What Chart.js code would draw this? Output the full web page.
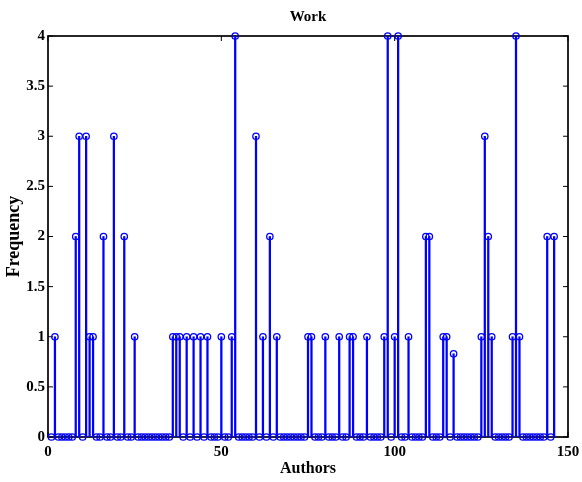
<!DOCTYPE html>
<html>
<head>
<meta charset="utf-8">
<script src="https://cdn.jsdelivr.net/npm/chart.js@4.4.1/dist/chart.umd.min.js"></script>
<style>
  html, body { margin: 0; padding: 0; background: #fff; }
  canvas { display: block; }
</style>
</head>
<body>
<canvas id="c" width="582" height="482"></canvas>
<script>
// stem plot: frequency per author (authors numbered from 1)
const firstAuthor = 1;
const frequency = [
  0, 1, 0, 0, 0, 0, 0, 2, 3, 0,
  3, 1, 1, 0, 0, 2, 0, 0, 3, 0,
  0, 2, 0, 0, 1, 0, 0, 0, 0, 0,
  0, 0, 0, 0, 0, 1, 1, 1, 0, 1,
  0, 1, 0, 1, 0, 1, 0, 0, 0, 1,
  0, 0, 1, 4, 0, 0, 0, 0, 0, 3,
  0, 1, 0, 2, 0, 1, 0, 0, 0, 0,
  0, 0, 0, 0, 1, 1, 0, 0, 0, 1,
  0, 0, 0, 1, 0, 0, 1, 1, 0, 0,
  0, 1, 0, 0, 0, 0, 1, 4, 0, 1,
  4, 0, 0, 1, 0, 0, 0, 0, 2, 2,
  0, 0, 0, 1, 1, 0, 0.83, 0, 0, 0,
  0, 0, 0, 0, 1, 3, 2, 1, 0, 0,
  0, 0, 0, 1, 4, 1, 0, 0, 0, 0,
  0, 0, 0, 2, 0, 2,
];
const xTicks = [0, 50, 100, 150];
const yTicks = [0, 0.5, 1, 1.5, 2, 2.5, 3, 3.5, 4];

const points = frequency.map((v, i) => ({ x: firstAuthor + i, y: v }));

const FONT = 'Liberation Serif, Times New Roman, serif';
const BLUE = '#0000ff';

// MATLAB-like box with inward ticks on all four sides
const boxPlugin = {
  id: 'box',
  beforeDatasetsDraw(chart) {
    const { ctx, chartArea: a, scales } = chart;
    const len = 5;
    ctx.save();
    ctx.strokeStyle = '#000';
    ctx.lineWidth = 1;
    ctx.beginPath();
    for (const v of xTicks) {
      const px = scales.x.getPixelForValue(v);
      ctx.moveTo(px, a.bottom); ctx.lineTo(px, a.bottom - len);
      ctx.moveTo(px, a.top); ctx.lineTo(px, a.top + len);
    }
    for (const v of yTicks) {
      const py = scales.y.getPixelForValue(v);
      ctx.moveTo(a.left, py); ctx.lineTo(a.left + len, py);
      ctx.moveTo(a.right, py); ctx.lineTo(a.right - len, py);
    }
    ctx.stroke();
    ctx.lineWidth = 1.7;
    ctx.strokeRect(a.left, a.top, a.right - a.left, a.bottom - a.top);
    ctx.restore();
  },
};

new Chart(document.getElementById('c'), {
  data: {
    datasets: [
      {
        type: 'bar',
        data: points,
        backgroundColor: BLUE,
        borderWidth: 0,
        barThickness: 1.6,
        grouped: false,
      },
      {
        type: 'scatter',
        data: points,
        showLine: false,
        pointStyle: 'circle',
        pointRadius: 3.2,
        borderColor: BLUE,
        backgroundColor: 'rgba(0,0,0,0)',
        pointBorderWidth: 1.3,
        clip: false,
      },
    ],
  },
  options: {
    responsive: false,
    animation: false,
    events: [],
    layout: { padding: { left: 0, right: 14, top: 0, bottom: 0 } },
    plugins: {
      legend: { display: false },
      tooltip: { enabled: false },
      title: {
        display: true,
        text: 'Work',
        fullSize: false,
        color: '#000',
        font: { family: FONT, size: 15, weight: 'bold' },
        padding: { top: 8, bottom: 10 },
      },
    },
    scales: {
      x: {
        type: 'linear',
        min: 0,
        max: 150,
        offset: false,
        afterBuildTicks: (s) => { s.ticks = xTicks.map((v) => ({ value: v })); },
        afterFit: (s) => { s.height = 45; s.paddingRight = 0; s.paddingLeft = 0; },
        grid: { display: false, drawTicks: false, offset: false },
        border: { display: false },
        ticks: {
          color: '#000',
          padding: 6,
          maxRotation: 0,
          callback: (v) => String(v),
          font: { family: FONT, size: 15, weight: 'bold' },
        },
        title: {
          display: true,
          text: 'Authors',
          color: '#000',
          font: { family: FONT, size: 16, weight: 'bold' },
          padding: { top: 0, bottom: 4 },
        },
      },
      y: {
        type: 'linear',
        min: 0,
        max: 4,
        afterBuildTicks: (s) => { s.ticks = yTicks.map((v) => ({ value: v })); },
        afterFit: (s) => { s.width = 48; s.paddingTop = 0; s.paddingBottom = 0; },
        grid: { display: false, drawTicks: false },
        border: { display: false },
        ticks: {
          color: '#000',
          padding: 3,
          callback: (v) => String(v),
          font: { family: FONT, size: 15, weight: 'bold' },
        },
        title: {
          display: true,
          text: 'Frequency',
          color: '#000',
          font: { family: FONT, size: 18, weight: 'bold' },
          padding: { top: 4, bottom: 0 },
        },
      },
    },
  },
  plugins: [boxPlugin],
});
</script>
</body>
</html>
